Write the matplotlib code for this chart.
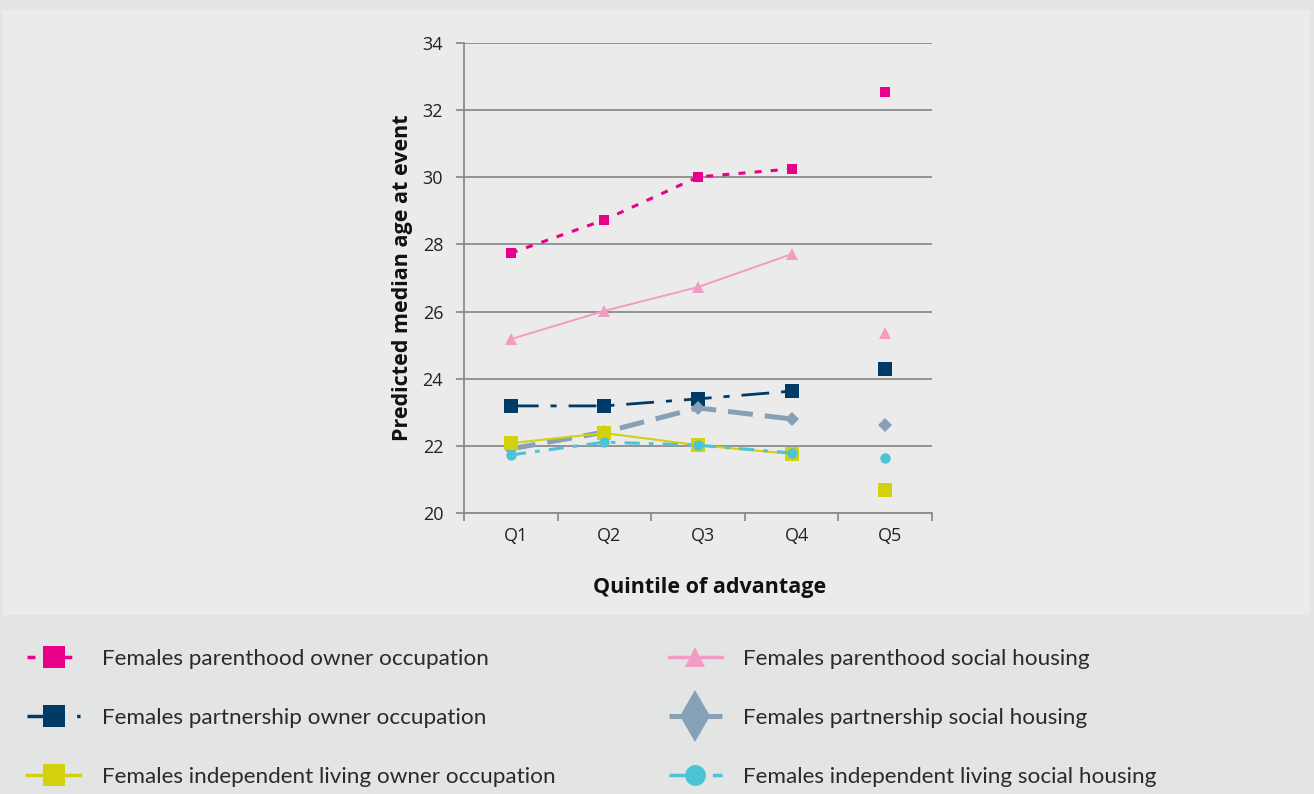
import numpy as np
import matplotlib
matplotlib.use('Agg')
import matplotlib.pyplot as plt
import matplotlib.transforms as mtrans
from matplotlib.lines import Line2D
from matplotlib.patches import Rectangle

# 数据 (Q1..Q5)
quintiles = ['Q1', 'Q2', 'Q3', 'Q4', 'Q5']
parent_owner = [27.74, 28.73, 30.01, 30.25, 32.54]
parent_social = [25.18, 26.02, 26.73, 27.71, 25.36]
partner_owner = [23.19, 23.19, 23.40, 23.63, 24.29]
partner_social = [21.91, 22.41, 23.13, 22.80, 22.62]
indep_owner = [22.08, 22.38, 22.02, 21.76, 20.68]
indep_social = [21.73, 22.11, 22.02, 21.79, 21.64]

labels = [
    'Females parenthood owner occupation',
    'Females parenthood social housing',
    'Females partnership owner occupation',
    'Females partnership social housing',
    'Females independent living owner occupation',
    'Females independent living social housing',
]

# 样式: color, linestyle, linewidth, marker, markersize, legend markersize
styles = [
    ('#e8008a', (0, (2.3, 3.0)), 2.2, 's', 7, 16),
    ('#f39cc3', '-', 1.4, '^', 8.5, 15),
    ('#003a66', (0, (10, 4.3, 2.2, 4.3)), 2.0, 's', 10.5, 16),
    ('#86a0b6', (0, (5, 2.4)), 3.6, 'D', 7, 17),
    ('#d3d10b', '-', 1.5, 's', 10.5, 16),
    ('#4ec3d5', (0, (5, 3, 1.5, 3)), 2.2, 'o', 7.5, 15),
]
series = [parent_owner, parent_social, partner_owner, partner_social,
          indep_owner, indep_social]

W, H = 1314, 794
fig = plt.figure(figsize=(W / 100, H / 100), dpi=100)
fig.patch.set_facecolor('#e3e5e4')
fig.patches.append(Rectangle((3 / W, 1 - 615 / H), 1307 / W, 605 / H,
                             transform=fig.transFigure, facecolor='#ebebeb',
                             edgecolor='none', zorder=-5))

ax = fig.add_axes([464 / W, 1 - 513 / H, 468 / W, 470 / H])
ax.set_facecolor('#ebebeb')

x = np.arange(len(quintiles))
zs = [3, 3, 4, 5, 6, 7]
for i in range(6):
    c, ls, lw, mk, ms, _ = styles[i]
    y = series[i]
    # Q1-Q4 verbunden, Q5 nur Marker
    ax.plot(x[:4], y[:4], color=c, linestyle=ls, linewidth=lw, zorder=zs[i])
    ax.plot(x, y, color=c, linestyle='none', marker=mk, markersize=ms,
            markeredgewidth=0, zorder=zs[i] + 0.5)

ax.set_xlim(-0.5, 4.5)
ax.set_ylim(20, 34)
ax.set_yticks(np.arange(20, 35, 2))
ax.yaxis.grid(True, color='#8c8c8c', linewidth=1.3)
ax.set_axisbelow(True)
for s in ['top', 'right']:
    ax.spines[s].set_visible(False)
for s in ['left', 'bottom']:
    ax.spines[s].set_color('#8c8c8c')
    ax.spines[s].set_linewidth(1.3)

ax.set_xticks(np.arange(-0.5, 5, 1))
ax.set_xticklabels([])
ax.set_xticks(x, minor=True)
ax.set_xticklabels(quintiles, minor=True)
ax.tick_params(axis='x', which='major', length=6, color='#8c8c8c', width=1.3)
ax.tick_params(axis='x', which='minor', length=0, pad=10)
ax.tick_params(axis='y', length=6, color='#8c8c8c', width=1.3, pad=9)
shift = mtrans.ScaledTranslation(5 / 100, 0, fig.dpi_scale_trans)
for lab in ax.get_xticklabels(minor=True):
    lab.set_transform(lab.get_transform() + shift)
for lab in ax.get_xticklabels(minor=True) + ax.get_yticklabels():
    lab.set_fontfamily('Open Sans')
    lab.set_fontsize(13)
    lab.set_color('#222222')

ax.set_ylabel('Predicted median age at event', fontfamily='Open Sans',
              fontweight='bold', fontsize=15.5, color='#111111', labelpad=7)
ax.set_xlabel('Quintile of advantage', fontfamily='Open Sans',
              fontweight='bold', fontsize=15.5, color='#111111', labelpad=23)
ax.xaxis.label.set_x(0.525)

# Legende mit groesseren Markern
handles = []
for i in [0, 2, 4, 1, 3, 5]:
    c, ls, lw, mk, ms, lms = styles[i]
    if mk == 'D':
        mk = 'd'
        lms = 26
    handles.append(Line2D([0], [0], color=c, linestyle=ls,
                          linewidth=max(lw, 2.5), marker=mk, markersize=lms,
                          markeredgewidth=0))
leg_labels = [labels[i] for i in [0, 2, 4, 1, 3, 5]]
leg = fig.legend(handles, leg_labels, loc='upper left',
                 bbox_to_anchor=(7 / W, 1 - 629 / H), ncol=2, frameon=False,
                 prop={'family': ['Lato', 'DejaVu Sans'], 'size': 16.2},
                 handlelength=2.35, handletextpad=0.95, labelspacing=1.72,
                 columnspacing=5.05, labelcolor='#2a2a2a')

fig.savefig('out.png', dpi=100, facecolor=fig.get_facecolor())
